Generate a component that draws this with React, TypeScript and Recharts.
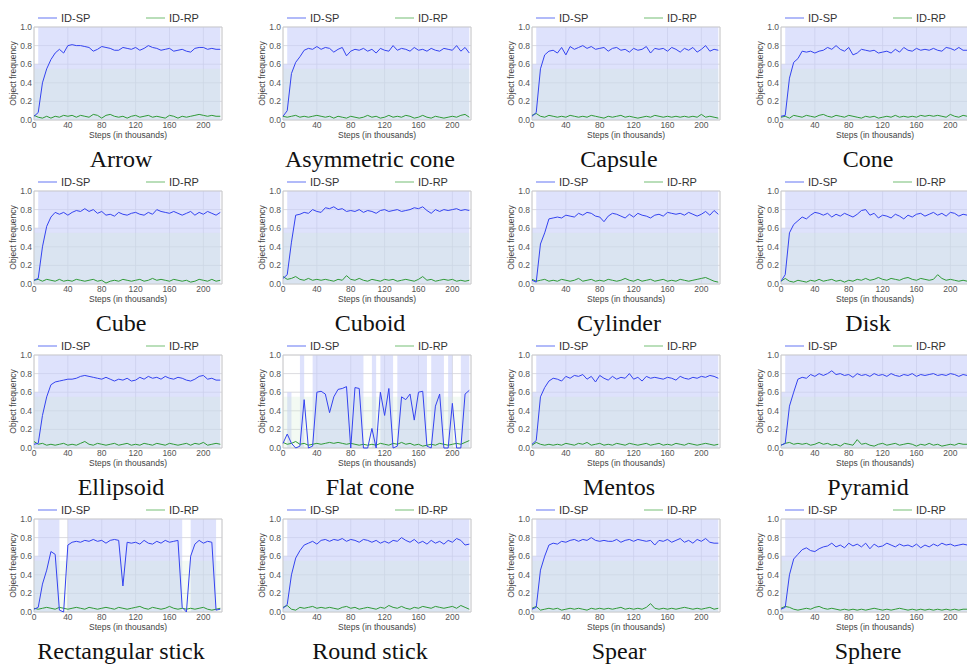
import { ComposedChart, Line, Area, XAxis, YAxis, CartesianGrid, ReferenceArea } from 'recharts';

// steps (in thousands)
const steps = [
  0, 5, 10, 15, 20, 25, 30, 35, 40, 45, 50, 55, 60, 65, 70, 75, 80, 85, 90, 95, 100, 105, 110,
  115, 120, 125, 130, 135, 140, 145, 150, 155, 160, 165, 170, 175, 180, 185, 190, 195, 200, 205, 210, 215, 220,
];
const xTicks = [0, 40, 80, 120, 160, 200];
const yTicks = [0, 0.2, 0.4, 0.6, 0.8, 1.0];
const seriesNames = ['ID-SP', 'ID-RP'];

// ID-SP smoothed frequency
const spArrow = [0.04, 0.08, 0.40, 0.55, 0.65, 0.72, 0.76, 0.72, 0.80, 0.81, 0.80, 0.80, 0.79, 0.78, 0.74, 0.76, 0.79, 0.78, 0.77, 0.75, 0.75, 0.78, 0.77, 0.76, 0.78, 0.75, 0.77, 0.80, 0.78, 0.77, 0.75, 0.76, 0.77, 0.74, 0.75, 0.76, 0.74, 0.73, 0.77, 0.78, 0.78, 0.76, 0.77, 0.76, 0.76];
const spAsym = [0.04, 0.10, 0.50, 0.62, 0.68, 0.75, 0.77, 0.76, 0.79, 0.76, 0.78, 0.77, 0.73, 0.76, 0.78, 0.69, 0.74, 0.76, 0.75, 0.77, 0.74, 0.76, 0.72, 0.77, 0.75, 0.74, 0.80, 0.75, 0.77, 0.76, 0.74, 0.78, 0.75, 0.76, 0.74, 0.77, 0.75, 0.74, 0.77, 0.76, 0.75, 0.80, 0.74, 0.78, 0.72];
const spCapsule = [0.04, 0.08, 0.55, 0.70, 0.74, 0.75, 0.72, 0.78, 0.70, 0.79, 0.76, 0.78, 0.80, 0.77, 0.79, 0.76, 0.77, 0.78, 0.74, 0.77, 0.78, 0.75, 0.76, 0.73, 0.77, 0.75, 0.76, 0.79, 0.72, 0.77, 0.76, 0.77, 0.74, 0.78, 0.76, 0.73, 0.77, 0.75, 0.78, 0.73, 0.76, 0.80, 0.74, 0.76, 0.75];
const spCone = [0.04, 0.05, 0.45, 0.62, 0.66, 0.74, 0.73, 0.74, 0.72, 0.74, 0.75, 0.78, 0.76, 0.80, 0.76, 0.74, 0.78, 0.70, 0.72, 0.76, 0.75, 0.74, 0.75, 0.72, 0.73, 0.74, 0.72, 0.76, 0.73, 0.78, 0.75, 0.74, 0.77, 0.75, 0.76, 0.75, 0.77, 0.75, 0.74, 0.78, 0.77, 0.75, 0.78, 0.75, 0.75];
const spCube = [0.04, 0.06, 0.40, 0.62, 0.72, 0.77, 0.75, 0.77, 0.74, 0.77, 0.79, 0.78, 0.81, 0.78, 0.80, 0.76, 0.78, 0.74, 0.75, 0.73, 0.77, 0.75, 0.74, 0.76, 0.77, 0.75, 0.74, 0.77, 0.75, 0.80, 0.78, 0.77, 0.76, 0.78, 0.76, 0.74, 0.76, 0.78, 0.74, 0.77, 0.75, 0.78, 0.76, 0.74, 0.77];
const spCuboid = [0.06, 0.10, 0.45, 0.74, 0.75, 0.77, 0.76, 0.80, 0.78, 0.77, 0.82, 0.81, 0.83, 0.80, 0.81, 0.78, 0.79, 0.78, 0.80, 0.77, 0.79, 0.78, 0.76, 0.79, 0.80, 0.78, 0.79, 0.80, 0.78, 0.79, 0.80, 0.82, 0.81, 0.83, 0.79, 0.76, 0.80, 0.78, 0.80, 0.79, 0.80, 0.81, 0.79, 0.80, 0.79];
const spCylinder = [0.04, 0.02, 0.43, 0.55, 0.70, 0.71, 0.72, 0.71, 0.74, 0.73, 0.72, 0.76, 0.74, 0.77, 0.76, 0.73, 0.72, 0.67, 0.73, 0.76, 0.75, 0.73, 0.71, 0.75, 0.72, 0.76, 0.74, 0.73, 0.71, 0.74, 0.75, 0.73, 0.77, 0.76, 0.75, 0.76, 0.74, 0.77, 0.75, 0.73, 0.75, 0.78, 0.74, 0.79, 0.75];
const spDisk = [0.03, 0.10, 0.55, 0.64, 0.68, 0.72, 0.70, 0.74, 0.77, 0.76, 0.74, 0.76, 0.72, 0.75, 0.73, 0.76, 0.74, 0.72, 0.75, 0.79, 0.80, 0.74, 0.76, 0.71, 0.74, 0.73, 0.71, 0.75, 0.73, 0.70, 0.74, 0.72, 0.75, 0.76, 0.73, 0.75, 0.77, 0.74, 0.76, 0.73, 0.77, 0.76, 0.73, 0.75, 0.74];
const spEllipsoid = [0.04, 0.05, 0.35, 0.55, 0.68, 0.71, 0.72, 0.73, 0.74, 0.74, 0.75, 0.77, 0.78, 0.77, 0.76, 0.75, 0.74, 0.76, 0.74, 0.72, 0.74, 0.73, 0.75, 0.72, 0.73, 0.76, 0.74, 0.77, 0.75, 0.76, 0.74, 0.77, 0.75, 0.74, 0.76, 0.75, 0.73, 0.72, 0.74, 0.77, 0.78, 0.74, 0.75, 0.73, 0.73];
const spFlatCone = [0.05, 0.15, 0.05, 0.0, 0.02, 0.52, 0.0, 0.02, 0.60, 0.61, 0.58, 0.38, 0.55, 0.63, 0.64, 0.66, 0.0, 0.65, 0.64, 0.0, 0.0, 0.21, 0.0, 0.60, 0.35, 0.64, 0.0, 0.02, 0.55, 0.52, 0.58, 0.30, 0.60, 0.61, 0.02, 0.0, 0.45, 0.58, 0.0, 0.0, 0.48, 0.0, 0.0, 0.58, 0.62];
const spMentos = [0.04, 0.08, 0.55, 0.65, 0.72, 0.75, 0.74, 0.72, 0.77, 0.75, 0.78, 0.77, 0.79, 0.74, 0.77, 0.71, 0.78, 0.75, 0.73, 0.77, 0.74, 0.76, 0.75, 0.80, 0.74, 0.76, 0.72, 0.77, 0.75, 0.76, 0.75, 0.74, 0.76, 0.75, 0.73, 0.77, 0.75, 0.74, 0.76, 0.75, 0.77, 0.76, 0.78, 0.77, 0.75];
const spPyramid = [0.03, 0.05, 0.45, 0.60, 0.74, 0.76, 0.75, 0.79, 0.77, 0.80, 0.78, 0.80, 0.83, 0.79, 0.80, 0.78, 0.79, 0.76, 0.80, 0.78, 0.79, 0.77, 0.80, 0.78, 0.79, 0.77, 0.80, 0.78, 0.77, 0.79, 0.78, 0.80, 0.77, 0.79, 0.78, 0.79, 0.80, 0.78, 0.79, 0.78, 0.80, 0.79, 0.77, 0.79, 0.78];
const spRectStick = [0.03, 0.05, 0.30, 0.45, 0.65, 0.62, 0.02, 0.0, 0.72, 0.75, 0.76, 0.75, 0.77, 0.76, 0.78, 0.76, 0.77, 0.74, 0.77, 0.78, 0.77, 0.28, 0.75, 0.74, 0.75, 0.73, 0.77, 0.74, 0.73, 0.76, 0.74, 0.77, 0.75, 0.76, 0.77, 0.05, 0.0, 0.60, 0.73, 0.77, 0.74, 0.76, 0.75, 0.02, 0.03];
const spRoundStick = [0.04, 0.08, 0.40, 0.58, 0.66, 0.72, 0.74, 0.76, 0.73, 0.77, 0.78, 0.76, 0.78, 0.77, 0.79, 0.76, 0.78, 0.77, 0.75, 0.78, 0.77, 0.75, 0.77, 0.74, 0.76, 0.74, 0.77, 0.76, 0.80, 0.77, 0.75, 0.78, 0.74, 0.76, 0.73, 0.77, 0.74, 0.76, 0.73, 0.77, 0.75, 0.79, 0.77, 0.72, 0.73];
const spSpear = [0.03, 0.05, 0.45, 0.60, 0.72, 0.74, 0.73, 0.76, 0.75, 0.77, 0.78, 0.76, 0.78, 0.77, 0.80, 0.77, 0.76, 0.77, 0.76, 0.76, 0.78, 0.75, 0.77, 0.78, 0.76, 0.78, 0.77, 0.76, 0.77, 0.72, 0.77, 0.76, 0.78, 0.75, 0.77, 0.79, 0.75, 0.77, 0.74, 0.78, 0.76, 0.79, 0.75, 0.74, 0.74];
const spSphere = [0.03, 0.05, 0.40, 0.57, 0.62, 0.67, 0.69, 0.66, 0.65, 0.68, 0.70, 0.71, 0.74, 0.70, 0.72, 0.69, 0.74, 0.71, 0.73, 0.70, 0.74, 0.68, 0.73, 0.70, 0.71, 0.74, 0.72, 0.70, 0.73, 0.71, 0.72, 0.70, 0.73, 0.69, 0.72, 0.70, 0.73, 0.71, 0.74, 0.72, 0.73, 0.71, 0.72, 0.73, 0.72];

// ID-RP smoothed frequency
const rpArrow = [0.05, 0.03, 0.02, 0.04, 0.02, 0.04, 0.03, 0.05, 0.04, 0.05, 0.03, 0.05, 0.04, 0.03, 0.06, 0.05, 0.02, 0.05, 0.06, 0.04, 0.03, 0.04, 0.02, 0.04, 0.05, 0.03, 0.04, 0.05, 0.03, 0.04, 0.03, 0.02, 0.05, 0.04, 0.02, 0.04, 0.03, 0.04, 0.05, 0.06, 0.05, 0.04, 0.05, 0.04, 0.04];
const rpAsym = [0.04, 0.03, 0.04, 0.05, 0.03, 0.04, 0.03, 0.04, 0.05, 0.04, 0.03, 0.04, 0.02, 0.04, 0.03, 0.02, 0.04, 0.03, 0.02, 0.03, 0.05, 0.03, 0.04, 0.02, 0.03, 0.05, 0.03, 0.04, 0.03, 0.05, 0.04, 0.02, 0.03, 0.05, 0.03, 0.02, 0.04, 0.03, 0.02, 0.03, 0.04, 0.03, 0.05, 0.06, 0.03];
const rpCapsule = [0.05, 0.07, 0.04, 0.03, 0.05, 0.04, 0.03, 0.04, 0.03, 0.05, 0.04, 0.03, 0.04, 0.03, 0.05, 0.04, 0.03, 0.02, 0.04, 0.03, 0.04, 0.05, 0.03, 0.04, 0.03, 0.02, 0.03, 0.04, 0.03, 0.05, 0.04, 0.03, 0.04, 0.03, 0.04, 0.03, 0.04, 0.03, 0.04, 0.03, 0.06, 0.03, 0.04, 0.03, 0.02];
const rpCone = [0.03, 0.04, 0.02, 0.05, 0.04, 0.03, 0.05, 0.04, 0.03, 0.05, 0.06, 0.04, 0.03, 0.05, 0.04, 0.03, 0.05, 0.04, 0.03, 0.02, 0.04, 0.03, 0.04, 0.02, 0.03, 0.04, 0.03, 0.05, 0.03, 0.04, 0.03, 0.04, 0.03, 0.05, 0.04, 0.05, 0.04, 0.05, 0.04, 0.03, 0.06, 0.04, 0.03, 0.05, 0.04];
const rpCube = [0.04, 0.05, 0.03, 0.05, 0.04, 0.03, 0.05, 0.03, 0.04, 0.03, 0.05, 0.04, 0.03, 0.04, 0.05, 0.03, 0.04, 0.01, 0.03, 0.04, 0.03, 0.05, 0.04, 0.03, 0.04, 0.05, 0.03, 0.04, 0.06, 0.04, 0.05, 0.04, 0.03, 0.05, 0.04, 0.03, 0.04, 0.02, 0.03, 0.05, 0.04, 0.03, 0.05, 0.03, 0.04];
const rpCuboid = [0.08, 0.05, 0.06, 0.08, 0.05, 0.04, 0.06, 0.04, 0.05, 0.04, 0.05, 0.04, 0.03, 0.05, 0.04, 0.09, 0.05, 0.04, 0.06, 0.04, 0.03, 0.05, 0.04, 0.03, 0.05, 0.04, 0.05, 0.03, 0.04, 0.05, 0.04, 0.03, 0.05, 0.08, 0.04, 0.05, 0.03, 0.04, 0.05, 0.04, 0.05, 0.03, 0.04, 0.03, 0.04];
const rpCylinder = [0.05, 0.03, 0.04, 0.05, 0.03, 0.04, 0.03, 0.05, 0.04, 0.03, 0.04, 0.06, 0.03, 0.04, 0.05, 0.03, 0.04, 0.03, 0.05, 0.04, 0.03, 0.04, 0.06, 0.04, 0.03, 0.05, 0.03, 0.04, 0.05, 0.03, 0.04, 0.05, 0.03, 0.04, 0.03, 0.05, 0.04, 0.03, 0.04, 0.05, 0.06, 0.07, 0.05, 0.03, 0.02];
const rpDisk = [0.03, 0.06, 0.03, 0.02, 0.04, 0.03, 0.02, 0.04, 0.03, 0.05, 0.03, 0.04, 0.05, 0.03, 0.04, 0.02, 0.04, 0.03, 0.05, 0.04, 0.06, 0.04, 0.05, 0.07, 0.05, 0.04, 0.06, 0.05, 0.04, 0.06, 0.07, 0.05, 0.04, 0.06, 0.05, 0.04, 0.05, 0.10, 0.06, 0.04, 0.05, 0.04, 0.03, 0.04, 0.03];
const rpEllipsoid = [0.07, 0.04, 0.05, 0.03, 0.04, 0.03, 0.04, 0.05, 0.03, 0.04, 0.03, 0.05, 0.07, 0.04, 0.03, 0.05, 0.04, 0.03, 0.04, 0.05, 0.03, 0.04, 0.05, 0.03, 0.04, 0.03, 0.05, 0.04, 0.03, 0.05, 0.04, 0.03, 0.05, 0.04, 0.03, 0.04, 0.05, 0.03, 0.05, 0.04, 0.06, 0.03, 0.04, 0.05, 0.04];
const rpFlatCone = [0.06, 0.04, 0.05, 0.07, 0.04, 0.05, 0.03, 0.04, 0.05, 0.04, 0.05, 0.06, 0.05, 0.06, 0.05, 0.04, 0.05, 0.04, 0.03, 0.04, 0.03, 0.04, 0.03, 0.05, 0.04, 0.03, 0.05, 0.04, 0.06, 0.04, 0.05, 0.03, 0.04, 0.02, 0.03, 0.04, 0.03, 0.05, 0.04, 0.03, 0.04, 0.05, 0.04, 0.06, 0.08];
const rpMentos = [0.03, 0.06, 0.04, 0.03, 0.04, 0.03, 0.04, 0.03, 0.05, 0.04, 0.03, 0.05, 0.04, 0.06, 0.03, 0.04, 0.05, 0.03, 0.04, 0.03, 0.05, 0.04, 0.03, 0.05, 0.04, 0.03, 0.04, 0.05, 0.03, 0.04, 0.05, 0.03, 0.04, 0.03, 0.05, 0.04, 0.03, 0.05, 0.04, 0.03, 0.04, 0.05, 0.04, 0.03, 0.04];
const rpPyramid = [0.03, 0.05, 0.06, 0.04, 0.05, 0.04, 0.05, 0.03, 0.04, 0.06, 0.04, 0.05, 0.03, 0.04, 0.02, 0.05, 0.04, 0.03, 0.09, 0.04, 0.05, 0.03, 0.02, 0.04, 0.05, 0.03, 0.04, 0.05, 0.03, 0.04, 0.05, 0.04, 0.02, 0.04, 0.03, 0.05, 0.03, 0.04, 0.02, 0.03, 0.04, 0.03, 0.05, 0.04, 0.04];
const rpRectStick = [0.04, 0.03, 0.04, 0.05, 0.04, 0.03, 0.05, 0.04, 0.03, 0.04, 0.05, 0.04, 0.03, 0.05, 0.04, 0.03, 0.04, 0.05, 0.04, 0.03, 0.05, 0.04, 0.03, 0.04, 0.05, 0.06, 0.04, 0.03, 0.05, 0.04, 0.03, 0.04, 0.06, 0.04, 0.03, 0.04, 0.03, 0.04, 0.03, 0.04, 0.05, 0.03, 0.02, 0.03, 0.04];
const rpRoundStick = [0.05, 0.07, 0.03, 0.02, 0.05, 0.04, 0.05, 0.06, 0.04, 0.05, 0.04, 0.05, 0.04, 0.03, 0.05, 0.06, 0.04, 0.05, 0.03, 0.04, 0.05, 0.04, 0.03, 0.05, 0.04, 0.07, 0.05, 0.04, 0.06, 0.04, 0.03, 0.05, 0.04, 0.06, 0.05, 0.04, 0.06, 0.05, 0.04, 0.05, 0.06, 0.04, 0.07, 0.05, 0.03];
const rpSpear = [0.04, 0.06, 0.02, 0.03, 0.04, 0.03, 0.04, 0.02, 0.03, 0.04, 0.03, 0.04, 0.03, 0.02, 0.04, 0.03, 0.04, 0.03, 0.04, 0.03, 0.04, 0.05, 0.03, 0.04, 0.03, 0.04, 0.03, 0.05, 0.09, 0.04, 0.03, 0.04, 0.03, 0.04, 0.03, 0.04, 0.05, 0.04, 0.03, 0.04, 0.03, 0.04, 0.05, 0.03, 0.04];
const rpSphere = [0.04, 0.06, 0.05, 0.03, 0.02, 0.03, 0.04, 0.03, 0.05, 0.06, 0.04, 0.03, 0.04, 0.03, 0.02, 0.03, 0.02, 0.03, 0.02, 0.03, 0.02, 0.03, 0.04, 0.03, 0.02, 0.03, 0.02, 0.03, 0.04, 0.03, 0.02, 0.03, 0.02, 0.03, 0.02, 0.03, 0.02, 0.03, 0.02, 0.03, 0.02, 0.03, 0.02, 0.03, 0.03];

// upper edge of the raw (unsmoothed) ID-SP spread
const bandFull = [0.6, 1, 1, 1, 1, 1, 1, 1, 1, 1, 1, 1, 1, 1, 1, 1, 1, 1, 1, 1, 1, 1, 1, 1, 1, 1, 1, 1, 1, 1, 1, 1, 1, 1, 1, 1, 1, 1, 1, 1, 1, 1, 1, 1, 1];
const bandFlatCone = [0, 0.6, 0, 0, 1, 0, 0, 1, 1, 1, 1, 1, 1, 1, 1, 1, 1, 1, 1, 0, 0, 1, 0, 1, 1, 1, 0, 1, 1, 1, 1, 1, 1, 1, 0, 1, 1, 1, 0, 1, 0, 0, 1, 1, 1];
const bandRectStick = [0.6, 1, 1, 1, 1, 1, 0, 0, 1, 1, 1, 1, 1, 1, 1, 1, 1, 1, 1, 1, 1, 1, 1, 1, 1, 1, 1, 1, 1, 1, 1, 1, 1, 1, 1, 0, 0, 1, 1, 1, 1, 1, 1, 0, 0];
const rpSpread = 0.55;

const panels = [
  { name: 'Arrow', sp: spArrow, rp: rpArrow, band: bandFull },
  { name: 'Asymmetric cone', sp: spAsym, rp: rpAsym, band: bandFull },
  { name: 'Capsule', sp: spCapsule, rp: rpCapsule, band: bandFull },
  { name: 'Cone', sp: spCone, rp: rpCone, band: bandFull },
  { name: 'Cube', sp: spCube, rp: rpCube, band: bandFull },
  { name: 'Cuboid', sp: spCuboid, rp: rpCuboid, band: bandFull },
  { name: 'Cylinder', sp: spCylinder, rp: rpCylinder, band: bandFull },
  { name: 'Disk', sp: spDisk, rp: rpDisk, band: bandFull },
  { name: 'Ellipsoid', sp: spEllipsoid, rp: rpEllipsoid, band: bandFull },
  { name: 'Flat cone', sp: spFlatCone, rp: rpFlatCone, band: bandFlatCone },
  { name: 'Mentos', sp: spMentos, rp: rpMentos, band: bandFull },
  { name: 'Pyramid', sp: spPyramid, rp: rpPyramid, band: bandFull },
  { name: 'Rectangular stick', sp: spRectStick, rp: rpRectStick, band: bandRectStick },
  { name: 'Round stick', sp: spRoundStick, rp: rpRoundStick, band: bandFull },
  { name: 'Spear', sp: spSpear, rp: rpSpear, band: bandFull },
  { name: 'Sphere', sp: spSphere, rp: rpSphere, band: bandFull },
];

const SANS = '"Liberation Sans", Arial, sans-serif';
const SP_COLOR = '#3443f0';
const RP_COLOR = '#2f9a36';
const PANEL_W = 249;
const PANEL_H = 164;

function LegendItem({ label, color, left }: { label: string; color: string; left: number }) {
  return (
    <div style={{ position: 'absolute', left, top: 11, display: 'flex', alignItems: 'center', fontFamily: SANS, fontSize: 11, color: '#333' }}>
      <svg width={20} height={14}>
        <line x1={0} y1={7} x2={19} y2={7} stroke={color} strokeWidth={1.2} />
      </svg>
      <span style={{ marginLeft: 3 }}>{label}</span>
    </div>
  );
}

function SmallChart({ panel, left, top }: { panel: (typeof panels)[number]; left: number; top: number }) {
  const data = steps.map((s, i) => ({
    step: s,
    sp: panel.sp[i],
    rp: panel.rp[i],
    spBand: [0, panel.band[i]],
    rpBand: [0, rpSpread],
  }));
  const tickStyle = { fontSize: 8.5, fill: '#555', fontFamily: SANS };
  return (
    <div style={{ position: 'absolute', left, top, width: PANEL_W, height: PANEL_H }}>
      <LegendItem label={seriesNames[0]} color="#7d8cf5" left={38} />
      <LegendItem label={seriesNames[1]} color="#8bc98b" left={146} />
      <ComposedChart width={PANEL_W} height={140} data={data} margin={{ top: 27, right: 27, left: 0, bottom: 0 }}>
        <CartesianGrid stroke="#d2d2d8" strokeWidth={0.8} />
        <XAxis
          dataKey="step"
          type="number"
          domain={[0, 222]}
          ticks={xTicks}
          interval={0}
          tickSize={0}
          tickMargin={2}
          axisLine={false}
          tick={tickStyle}
          height={20}
          label={{ value: 'Steps (in thousands)', position: 'insideBottom', offset: 2, style: { fontSize: 8.5, fill: '#444', fontFamily: SANS } }}
        />
        <YAxis
          type="number"
          domain={[0, 1]}
          ticks={yTicks}
          interval={0}
          tickFormatter={(v: number) => v.toFixed(1)}
          tickSize={0}
          tickMargin={2}
          axisLine={false}
          tick={tickStyle}
          width={34}
          label={{ value: 'Object frequency', angle: -90, position: 'insideLeft', offset: 13, style: { fontSize: 8.5, fill: '#444', fontFamily: SANS, textAnchor: 'middle' } }}
        />
        <Area dataKey="spBand" type="stepAfter" stroke="none" fill="#c8cefa" fillOpacity={0.6} isAnimationActive={false} />
        <Area dataKey="rpBand" type="stepAfter" stroke="none" fill="#cfeacf" fillOpacity={0.25} isAnimationActive={false} />
        <ReferenceArea x1={0} x2={222} y1={0} y2={1} fill="none" stroke="#cccccc" strokeWidth={0.8} />
        <Line dataKey="rp" type="linear" stroke={RP_COLOR} strokeWidth={1} dot={false} isAnimationActive={false} />
        <Line dataKey="sp" type="linear" stroke={SP_COLOR} strokeWidth={1} dot={false} isAnimationActive={false} />
      </ComposedChart>
      <div
        style={{
          position: 'absolute',
          left: 0,
          top: 147,
          width: 242,
          textAlign: 'center',
          fontFamily: '"Liberation Serif", "Times New Roman", serif',
          fontSize: 24,
          lineHeight: '24px',
          color: '#111',
          whiteSpace: 'nowrap',
        }}
      >
        {panel.name}
      </div>
    </div>
  );
}

export default function App() {
  return (
    <div style={{ position: 'absolute', left: 0, top: 0, width: 967, height: 669, overflow: 'hidden', background: '#fff' }}>
      {panels.map((p, i) => (
        <SmallChart key={p.name} panel={p} left={(i % 4) * PANEL_W} top={Math.floor(i / 4) * PANEL_H} />
      ))}
    </div>
  );
}
